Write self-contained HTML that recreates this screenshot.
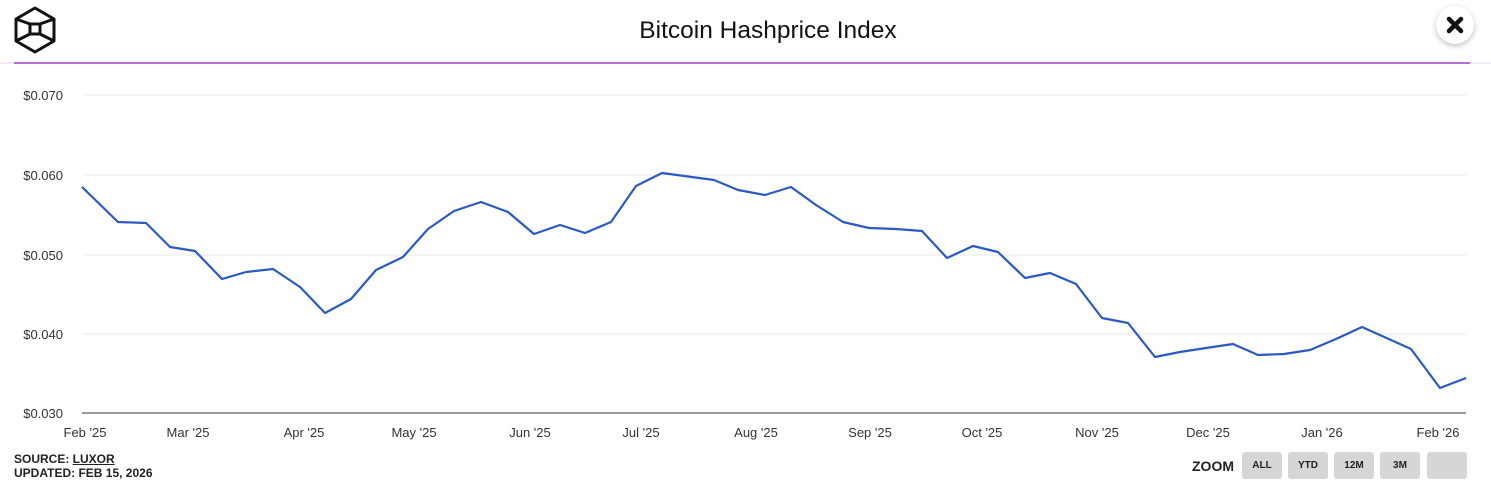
<!DOCTYPE html>
<html><head><style>
body{margin:0;width:1491px;height:503px;background:#fff;font-family:"Liberation Sans",sans-serif;overflow:hidden;position:relative}
.t{position:absolute;top:17px;left:45px;width:1446px;text-align:center;font-size:24.5px;color:#111}
.src{position:absolute;left:14px;top:452px;font-size:12px;font-weight:bold;color:#222;line-height:14px}
.src u{text-decoration:underline}
.zoom{position:absolute;left:1192px;top:458px;font-size:14px;font-weight:bold;color:#222}
.b{position:absolute;top:452px;width:40px;height:27px;background:#d6d6d6;border-radius:3px;font-size:10px;font-weight:bold;color:#222;text-align:center;line-height:28px}
.x{position:absolute;left:1436px;top:6px;width:38px;height:38px;border-radius:50%;background:#fff;box-shadow:0 2px 6px rgba(0,0,0,.25)}
</style></head><body>
<svg width="1491" height="503" style="position:absolute;left:0;top:0">
<g fill="none" stroke="#111" stroke-width="3" stroke-linejoin="round">
<polygon points="35,8 54,19 54,41 35,52 16,41 16,19"/>
<rect x="30" y="24" width="10" height="10"/>
<line x1="16" y1="19" x2="30" y2="24"/><line x1="54" y1="19" x2="40" y2="24"/>
<line x1="16" y1="41" x2="30" y2="34"/><line x1="54" y1="41" x2="40" y2="34"/>
</g>
<line x1="0" y1="63" x2="1491" y2="63" stroke="#e6d6ee" stroke-width="1"/>
<line x1="14" y1="63" x2="1470" y2="63" stroke="#9b3fc8" stroke-width="1.5"/>
<g stroke="#e8e8e8" stroke-width="1">
<line x1="82" y1="95" x2="1466" y2="95"/><line x1="82" y1="175" x2="1466" y2="175"/>
<line x1="82" y1="255" x2="1466" y2="255"/><line x1="82" y1="334" x2="1466" y2="334"/>
</g>
<line x1="82" y1="413" x2="1466" y2="413" stroke="#333" stroke-width="1"/>
<g font-size="13" fill="#333" text-anchor="end">
<text x="63" y="100">$0.070</text><text x="63" y="180">$0.060</text><text x="63" y="260">$0.050</text><text x="63" y="339">$0.040</text><text x="63" y="418">$0.030</text>
</g>
<g font-size="13" fill="#333" text-anchor="middle">
<text x="85" y="437">Feb '25</text><text x="188" y="437">Mar '25</text><text x="304" y="437">Apr '25</text><text x="414" y="437">May '25</text><text x="530" y="437">Jun '25</text><text x="641" y="437">Jul '25</text><text x="756" y="437">Aug '25</text><text x="870" y="437">Sep '25</text><text x="982" y="437">Oct '25</text><text x="1097" y="437">Nov '25</text><text x="1208" y="437">Dec '25</text><text x="1322" y="437">Jan '26</text><text x="1438" y="437">Feb '26</text>
</g>
<polyline fill="none" stroke="#2b59c3" stroke-width="2.2" stroke-linejoin="round" points="82,187 118,222 146,223 170,247 195,251 222,279 246,272 273,269 300,287 325,313 351,299 376,270 403,257 428,229 454,211 481,202 508,212 534,234 560,225 585,233 611,222 636,186 662,173 714,180 738,190 765,195 791,187 816,205 843,222 869,228 896,229 922,231 947,258 973,246 998,252 1025,278 1050,273 1076,284 1102,318 1128,323 1155,357 1180,352 1206,348 1233,344 1258,355 1284,354 1310,350 1336,339 1362,327 1411,349 1440,388 1466,378"/>
</svg>
<div class="t">Bitcoin Hashprice Index</div>
<div class="x"><svg width="38" height="38"><g stroke="#111" stroke-width="4.5" stroke-linecap="round"><line x1="13" y1="13" x2="25" y2="25"/><line x1="25" y1="13" x2="13" y2="25"/></g></svg></div>
<div class="src">SOURCE: <u>LUXOR</u><br>UPDATED: FEB 15, 2026</div>
<div class="zoom">ZOOM</div>
<div class="b" style="left:1242px">ALL</div>
<div class="b" style="left:1288px">YTD</div>
<div class="b" style="left:1334px">12M</div>
<div class="b" style="left:1380px">3M</div>
<div class="b" style="left:1427px"></div>
</body></html>
